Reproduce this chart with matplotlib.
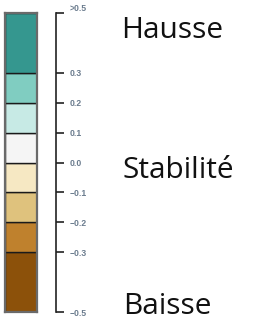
import numpy as np
import matplotlib.pyplot as plt

# class boundaries and colours (bottom to top)
bounds = [-0.5, -0.3, -0.2, -0.1, 0.0, 0.1, 0.2, 0.3, 0.5]
colors = ["#8c510a", "#bf812d", "#dfc27d", "#f6e8c3",
          "#f5f5f5", "#c7eae5", "#80cdc1", "#35978f"]
tick_vals = [-0.5, -0.3, -0.2, -0.1, 0.0, 0.1, 0.2, 0.3, 0.5]
tick_labels = ["\u22120.5", "\u22120.3", "\u22120.2", "\u22120.1", "0.0",
               "0.1", "0.2", "0.3", ">0.5"]
labels = ["Hausse", "Stabilité", "Baisse"]

W, H = 254, 321
fig = plt.figure(figsize=(W / 100, H / 100), dpi=100)

def fr(x0, y0, x1, y1):
    # pixel box (top-left origin) -> figure fraction rect
    return [x0 / W, 1 - y1 / H, (x1 - x0) / W, (y1 - y0) / H]

# colour boxes
ax = fig.add_axes(fr(5, 13, 37, 312))
heights = np.diff(bounds)
ax.bar(0, heights, bottom=bounds[:-1], width=1, color=colors,
       edgecolor="#1a1a1a", linewidth=1)
ax.set_xlim(-0.5, 0.5)
ax.set_ylim(bounds[0], bounds[-1])
ax.set_xticks([])
ax.set_yticks([])
for s in ax.spines.values():
    s.set_color("#6a6a6a")
    s.set_linewidth(1.6)

# scale with ticks
ax2 = fig.add_axes(fr(50, 13, 56, 312))
ax2.set_ylim(bounds[0], bounds[-1])
ax2.set_xticks([])
for k in ["left", "top", "bottom"]:
    ax2.spines[k].set_visible(False)
ax2.spines["right"].set_linewidth(1.2)
ax2.spines["right"].set_color("#222222")
ax2.patch.set_visible(False)
ax2.yaxis.tick_right()
ax2.set_yticks(tick_vals)
ax2.set_yticklabels(tick_labels, fontsize=6.2, color="#6b7c8e",
                    fontweight="bold", family="Liberation Sans")
ax2.tick_params(axis="y", direction="out", length=6, width=1.2,
                color="#222222", pad=4)
ax2.get_yticklabels()[-1].set_va("bottom")

# category labels
txt_pos = [(121, 38), (123, 178), (123, 314)]
for lab, (x, y) in zip(labels, txt_pos):
    fig.text(x / W, 1 - y / H, lab, fontsize=21.5, family="Open Sans",
             color="#111111", ha="left", va="baseline")

fig.savefig("out.png", dpi=100)
